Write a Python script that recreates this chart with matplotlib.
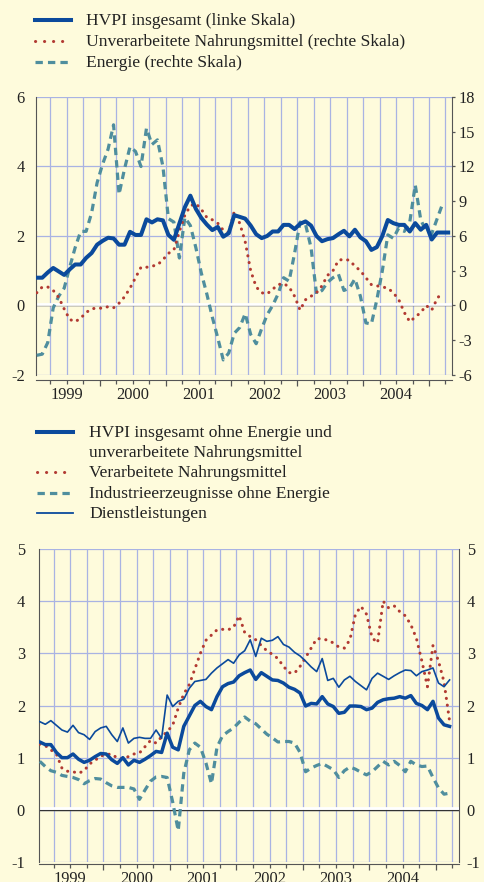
import numpy as np
import matplotlib
matplotlib.use("Agg")
import matplotlib.pyplot as plt
import matplotlib.transforms as mtransforms
from matplotlib.lines import Line2D
from matplotlib.ticker import FixedLocator, MultipleLocator, FuncFormatter

plt.rcParams['font.family'] = ['Liberation Serif', 'DejaVu Serif']
plt.rcParams['axes.unicode_minus'] = False

# Jahresraten in %, Monatswerte ab Januar 1999
hvpi = [0.8, 0.8, 0.95, 1.08, 0.98, 0.88, 1.04, 1.18, 1.18, 1.37, 1.51, 1.75,
        1.86, 1.95, 1.93, 1.75, 1.75, 2.12, 2.03, 2.03, 2.48, 2.39, 2.48, 2.45,
        2.03, 1.89, 2.36, 2.83, 3.16, 2.78, 2.52, 2.33, 2.17, 2.26, 1.98, 2.08,
        2.6, 2.55, 2.5, 2.3, 2.05, 1.94, 2.0, 2.13, 2.13, 2.32, 2.32, 2.2,
        2.35, 2.42, 2.3, 2.0, 1.85, 1.91, 1.94, 2.05, 2.15, 1.99, 2.18, 1.96,
        1.85, 1.6, 1.68, 2.0, 2.46, 2.37, 2.32, 2.32, 2.13, 2.37, 2.18, 2.32,
        1.9, 2.1, 2.1, 2.1]
unverarb = [1.1, 1.6, 1.6, 1.3, 0.7, -0.3, -1.2, -1.4, -1.1, -0.6, -0.3, -0.2,
            -0.25, -0.1, -0.2, 0.2, 0.75, 1.5, 2.4, 3.3, 3.3, 3.4, 3.5, 3.95,
            4.5, 4.8, 6.4, 7.8, 8.6, 8.8, 8.3, 7.6, 7.4, 7.1, 6.5, 6.3,
            8.1, 7.1, 5.5, 3.0, 1.6, 1.1, 1.0, 1.4, 1.8, 1.9, 1.6, 0.8,
            -0.4, 0.5, 0.8, 1.1, 1.7, 2.6, 3.0, 3.9, 4.0, 3.9, 3.4, 3.0,
            2.4, 1.8, 1.7, 1.6, 1.5, 1.1, 0.5, -0.6, -1.4, -1.0, -0.6, 0.0,
            -0.4, 0.6, 1.2]
energie = [-4.3, -4.2, -3.2, -0.2, 0.8, 1.5, 3.3, 5.0, 6.4, 6.4, 8.0, 10.6,
           12.2, 13.5, 15.6, 9.6, 11.8, 13.7, 13.3, 12.0, 15.3, 13.9, 14.3, 12.0,
           7.5, 7.2, 4.1, 7.6, 6.9, 5.0, 2.8, 1.0, -1.0, -2.8, -4.7, -4.1,
           -2.4, -1.9, -0.7, -2.5, -3.3, -2.0, -0.8, 0.0, 1.0, 2.4, 2.1, 4.5,
           7.2, 7.0, 5.0, 1.0, 1.3, 2.0, 2.4, 2.7, 1.3, 1.5, 2.3, 0.8,
           -1.5, -1.6, 0.5, 3.0, 6.1, 5.8, 6.7, 6.4, 7.2, 10.4, 7.4, 6.4,
           6.2, 7.5, 8.8]

kern = [1.3, 1.25, 1.25, 1.1, 1.0, 1.0, 1.07, 0.97, 0.91, 0.95, 1.02, 1.08,
        1.07, 0.96, 0.89, 1.0, 0.86, 0.95, 0.91, 0.97, 1.04, 1.12, 1.10, 1.47,
        1.2, 1.15, 1.6, 1.8, 2.0, 2.08, 1.98, 1.92, 2.17, 2.36, 2.42, 2.45,
        2.57, 2.63, 2.68, 2.5, 2.63, 2.56, 2.49, 2.48, 2.43, 2.35, 2.31, 2.24,
        1.99, 2.04, 2.03, 2.17, 2.03, 1.98, 1.85, 1.87, 1.99, 1.99, 1.98, 1.92,
        1.95, 2.06, 2.11, 2.13, 2.14, 2.17, 2.14, 2.19, 2.04, 2.0, 1.92, 2.08,
        1.76, 1.63, 1.6]
verarb = [1.26, 1.23, 1.15, 1.07, 0.8, 0.74, 0.73, 0.7, 0.75, 0.88, 0.95, 1.03,
          1.06, 1.07, 0.99, 0.98, 1.02, 1.07, 1.09, 1.21, 1.33, 1.28, 1.4, 1.5,
          1.62, 1.95, 2.22, 2.4, 2.7, 3.0, 3.25, 3.35, 3.45, 3.46, 3.45, 3.5,
          3.72, 3.4, 3.32, 3.26, 3.15, 3.05, 2.98, 2.9, 2.75, 2.63, 2.62, 2.75,
          2.92, 3.1, 3.28, 3.28, 3.25, 3.2, 3.12, 3.1, 3.26, 3.75, 3.9, 3.75,
          3.3, 3.2, 4.0, 3.87, 3.91, 3.8, 3.72, 3.55, 3.29, 2.85, 2.36, 3.15,
          2.85, 2.45, 1.7]
industrie = [0.93, 0.83, 0.75, 0.72, 0.66, 0.64, 0.62, 0.58, 0.5, 0.56, 0.6, 0.59,
             0.52, 0.46, 0.43, 0.43, 0.43, 0.4, 0.2, 0.38, 0.55, 0.63, 0.64, 0.62,
             0.15, -0.4, 0.7, 1.15, 1.28, 1.2, 0.9, 0.5, 1.2, 1.42, 1.5, 1.57,
             1.68, 1.78, 1.7, 1.65, 1.55, 1.45, 1.38, 1.3, 1.31, 1.31, 1.28, 1.1,
             0.73, 0.8, 0.85, 0.89, 0.83, 0.77, 0.62, 0.75, 0.82, 0.78, 0.72, 0.67,
             0.73, 0.83, 0.93, 0.86, 0.93, 0.85, 0.73, 0.93, 0.86, 0.83, 0.84, 0.62,
             0.42, 0.3, 0.32]
dienst = [1.69, 1.64, 1.71, 1.62, 1.53, 1.49, 1.62, 1.48, 1.44, 1.35, 1.5, 1.57,
          1.6, 1.44, 1.31, 1.57, 1.28, 1.37, 1.39, 1.37, 1.37, 1.53, 1.37, 2.2,
          1.98, 2.08, 2.12, 2.33, 2.46, 2.48, 2.5, 2.62, 2.72, 2.8, 2.88, 2.81,
          2.97, 3.05, 3.26, 2.94, 3.29, 3.23, 3.25, 3.32, 3.17, 3.12, 3.02, 2.95,
          2.85, 2.74, 2.65, 2.9, 2.48, 2.52, 2.35, 2.49, 2.56, 2.46, 2.38, 2.3,
          2.52, 2.62, 2.56, 2.5, 2.57, 2.63, 2.68, 2.67, 2.57, 2.65, 2.68, 2.72,
          2.43, 2.36, 2.49]


def monate(werte):
    return 1999 + (np.arange(len(werte)) + 0.5) / 12.0


bg = '#fefbdc'
gridc = '#a9b3e3'
blau = '#0b4a9c'
rot = '#b23a32'
petrol = '#4f8e9e'
achse = '#555555'
txt = '#222222'
fs = 11.8      # Achsenbeschriftung
fs_leg = 12.6  # Legende
XL = (1999.03, 2005.35)

fig = plt.figure(figsize=(4.85, 8.82), dpi=100, facecolor=bg)


def rahmen(ax, ylo, yhi, outward, pad_left):
    ax.set_facecolor(bg)
    ax.set_xlim(*XL)
    ax.set_ylim(ylo, yhi)
    ax.xaxis.set_major_locator(FixedLocator(np.arange(1999, 2006)))
    ax.xaxis.set_minor_locator(FixedLocator(np.arange(1999, 2005.5, 0.25)))
    ax.xaxis.set_major_formatter(FuncFormatter(lambda v, p: ''))
    ax.xaxis.set_minor_formatter(FuncFormatter(
        lambda v, p: str(int(v)) if abs(v - int(v) - 0.5) < 0.01 else ''))
    ax.grid(True, which='both', axis='x', color=gridc, lw=0.9)
    ax.grid(True, which='major', axis='y', color=gridc, lw=0.9)
    ax.set_axisbelow(True)
    for s in ['top', 'right']:
        ax.spines[s].set_visible(False)
    ax.spines['left'].set_color(achse)
    ax.spines['bottom'].set_color(achse)
    ax.spines['bottom'].set_position(('outward', outward))
    ax.tick_params(axis='x', which='major', length=4.5, width=0.9,
                   color=achse, direction='out')
    ax.tick_params(axis='x', which='minor', length=2.8, width=0.9,
                   color=achse, direction='out', pad=2,
                   labelsize=fs, labelcolor=txt)
    ax.tick_params(axis='y', length=0, pad=pad_left, labelsize=fs,
                   labelcolor=txt)
    # Nulllinie: dunkle Linie mit weissem Band darueber
    ax.axhline(0, color='#333333', lw=1.0, zorder=2)
    weiss = mtransforms.offset_copy(ax.transData, fig=fig, x=0, y=1.6,
                                    units='dots')
    ax.plot(list(XL), [0, 0], color='white', lw=2.0, transform=weiss,
            zorder=2)


def leer(ax):
    ax.patch.set_visible(False)
    for s in ax.spines.values():
        s.set_visible(False)


# ---------- oberes Diagramm ----------
ax1 = fig.add_axes([36 / 485, 1 - 375 / 882, 416 / 485, 278 / 882])
rahmen(ax1, -2, 6, 3.6, 8)
ax1.yaxis.set_major_locator(MultipleLocator(2))

ax1r = ax1.twinx()
leer(ax1r)
ax1r.set_ylim(-6, 18)
ax1r.yaxis.set_major_locator(MultipleLocator(3))
ax1r.spines['right'].set_visible(True)
ax1r.spines['right'].set_color(achse)
ax1r.tick_params(axis='y', length=2.5, width=0.9, color=achse, pad=2,
                 labelsize=fs, labelcolor=txt)
ax1r.plot(monate(energie), energie, color=petrol, lw=2.3,
          dashes=(2.3, 1.6), zorder=3)
ax1r.plot(monate(unverarb), unverarb, color=rot, lw=2.2,
          linestyle=(0, (0.05, 2.2)), dash_capstyle='round', zorder=4)

ax1b = ax1.twinx()
leer(ax1b)
ax1b.set_ylim(-2, 6)
ax1b.set_yticks([])
ax1b.plot(monate(hvpi), hvpi, color=blau, lw=2.9, zorder=5)

# ---------- unteres Diagramm ----------
ax2 = fig.add_axes([39 / 485, 1 - 862 / 882, 420 / 485, 313 / 882])
rahmen(ax2, -1, 5, 1.5, 10)
ax2.yaxis.set_major_locator(MultipleLocator(1))
ax2r = ax2.secondary_yaxis('right')
ax2r.set_yticks(np.arange(-1, 6, 1))
ax2r.tick_params(length=0, pad=5.5, labelsize=fs, labelcolor=txt)
ax2r.spines['right'].set_color(achse)

x2 = monate(kern)
ax2.plot(x2, industrie, color=petrol, lw=2.3, dashes=(2.3, 1.6), zorder=3)
ax2.plot(x2, verarb, color=rot, lw=2.2, linestyle=(0, (0.05, 2.2)),
         dash_capstyle='round', zorder=4)
ax2.plot(x2, dienst, color=blau, lw=1.2, zorder=5)
ax2.plot(x2, kern, color=blau, lw=2.5, zorder=6)


# ---------- Legenden ----------
def eintrag(y_px, x0, x1, xt, texte, **stil):
    y = 1 - y_px / 882
    fig.add_artist(Line2D([x0 / 485, x1 / 485], [y, y],
                          transform=fig.transFigure, **stil))
    for k, t in enumerate(texte):
        fig.text(xt / 485, 1 - (y_px + 1 + 19.5 * k) / 882, t,
                 fontsize=fs_leg, color=txt, va='center', ha='left')


stil_blau = dict(color=blau, lw=2.9)
stil_rot = dict(color=rot, lw=2.2, linestyle=(0, (0.05, 2.9)),
                dash_capstyle='round')
stil_petrol = dict(color=petrol, lw=2.3, dashes=(2.3, 1.6))

eintrag(20, 35, 71, 86, ['HVPI insgesamt (linke Skala)'], **stil_blau)
eintrag(41, 35, 71, 86, ['Unverarbeitete Nahrungsmittel (rechte Skala)'],
        **stil_rot)
eintrag(62, 35, 71, 86, ['Energie (rechte Skala)'], **stil_petrol)

eintrag(432, 37, 73, 89, ['HVPI insgesamt ohne Energie und',
                          'unverarbeitete Nahrungsmittel'], **stil_blau)
eintrag(472, 37, 73, 89, ['Verarbeitete Nahrungsmittel'], **stil_rot)
eintrag(493, 37, 73, 89, ['Industrieerzeugnisse ohne Energie'], **stil_petrol)
eintrag(513, 37, 73, 89, ['Dienstleistungen'], color=blau, lw=1.3)

fig.savefig('out.png', dpi=100, facecolor=bg)
